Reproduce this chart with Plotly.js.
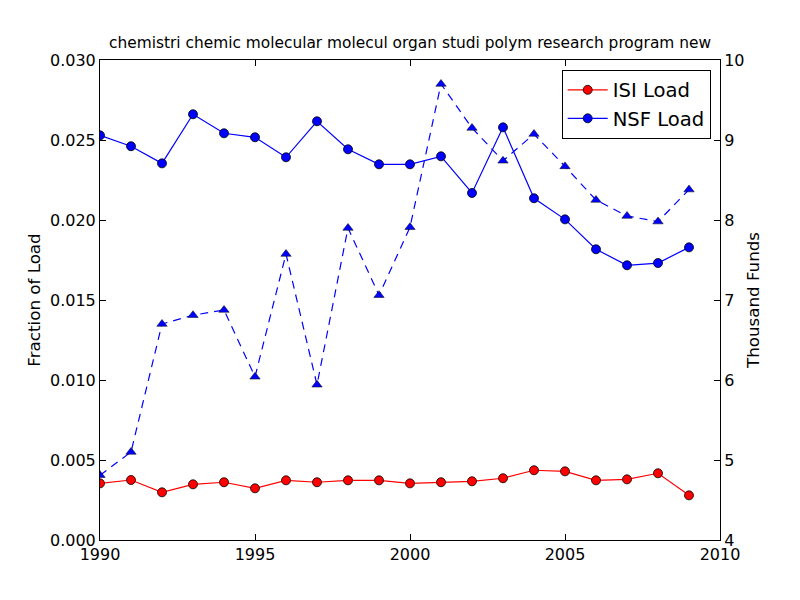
<!DOCTYPE html>
<html>
<head>
<meta charset="utf-8">
<script src="https://cdn.plot.ly/plotly-3.0.1.min.js"></script>
<style>html,body{margin:0;padding:0;background:#fff}#chart{width:800px;height:600px}</style>
</head>
<body>
<div id="chart"></div>
<script>
const years = [1990,1991,1992,1993,1994,1995,1996,1997,1998,1999,2000,2001,2002,2003,2004,2005,2006,2007,2008,2009];
const isiLoad = [0.00354,0.00375,0.00298,0.00348,0.00361,0.00323,0.00373,0.00361,0.00373,0.00373,0.00354,0.00361,0.00367,0.00386,0.00436,0.00429,0.00373,0.00379,0.00417,0.00279];
const nsfLoad = [0.02529,0.02461,0.02354,0.02661,0.02542,0.02517,0.02392,0.02617,0.02442,0.02348,0.02348,0.02398,0.02169,0.02579,0.02136,0.02004,0.01817,0.01717,0.01731,0.01829];
const thousandFunds = [4.81,5.10,6.70,6.81,6.875,6.04,7.575,5.94,7.90,7.06,7.91,9.70,9.15,8.74,9.075,8.67,8.25,8.05,7.98,8.38];
const titleText = "chemistri chemic molecular molecul organ studi polym research program new";

const font = {family: "DejaVu Sans", color: "#000"};
const traces = [
  {x: years, y: isiLoad, name: "ISI Load", type: "scatter", mode: "lines+markers",
   line: {color: "red", width: 1.2}, marker: {color: "red", size: 9, line: {color: "#000", width: 0.8}}},
  {x: years, y: nsfLoad, name: "NSF Load", type: "scatter", mode: "lines+markers",
   line: {color: "blue", width: 1.2}, marker: {color: "blue", size: 9, line: {color: "#000", width: 0.8}}},
  {x: years, y: thousandFunds, name: "Funds", yaxis: "y2", type: "scatter", mode: "lines+markers", showlegend: false,
   line: {color: "blue", width: 1.2, dash: "8px,6px"}, marker: {color: "blue", symbol: "triangle-up", size: 9, line: {color: "#000", width: 0.5}}}
];
const layout = {
  width: 800, height: 600,
  margin: {l: 100, r: 80, t: 60, b: 60},
  paper_bgcolor: "#fff", plot_bgcolor: "#fff",
  font: Object.assign({size: 16}, font),
  title: {text: titleText, font: Object.assign({size: 15.4}, font), x: 0.5, xanchor: "center", xref: "paper", y: 1, yref: "container", yanchor: "top", pad: {t: 37}},
  showlegend: true,
  legend: {x: 0.985, y: 0.98, xanchor: "right", yanchor: "top", bordercolor: "#000", borderwidth: 1, bgcolor: "#fff",
           font: Object.assign({size: 19.6}, font), tracegroupgap: 0, itemwidth: 40, entrywidth: 150, entrywidthmode: "pixels"},
  xaxis: {range: [1990, 2010], tickvals: [1990,1995,2000,2005,2010], ticks: "inside", ticklen: 6, tickcolor: "#000",
          showline: true, linecolor: "#000", linewidth: 1, mirror: "ticks", showgrid: false, zeroline: false,
          tickfont: Object.assign({size: 16}, font)},
  yaxis: {range: [0, 0.030], tickvals: [0,0.005,0.010,0.015,0.020,0.025,0.030], tickformat: ".3f", ticks: "inside", ticklen: 6, tickcolor: "#000",
          showline: true, linecolor: "#000", linewidth: 1, showgrid: false, zeroline: false,
          title: {text: "Fraction of Load", font: Object.assign({size: 16.7}, font), standoff: 5},
          tickfont: Object.assign({size: 16}, font)},
  yaxis2: {range: [4, 10], tickvals: [4,5,6,7,8,9,10], overlaying: "y", side: "right", ticks: "inside", ticklen: 6, tickcolor: "#000",
           showline: true, linecolor: "#000", linewidth: 1, showgrid: false, zeroline: false,
           title: {text: "Thousand Funds", font: Object.assign({size: 16.7}, font), standoff: 3},
           tickfont: Object.assign({size: 16}, font)}
};
Plotly.newPlot("chart", traces, layout, {displayModeBar: false, staticPlot: true});
</script>
</body>
</html>
